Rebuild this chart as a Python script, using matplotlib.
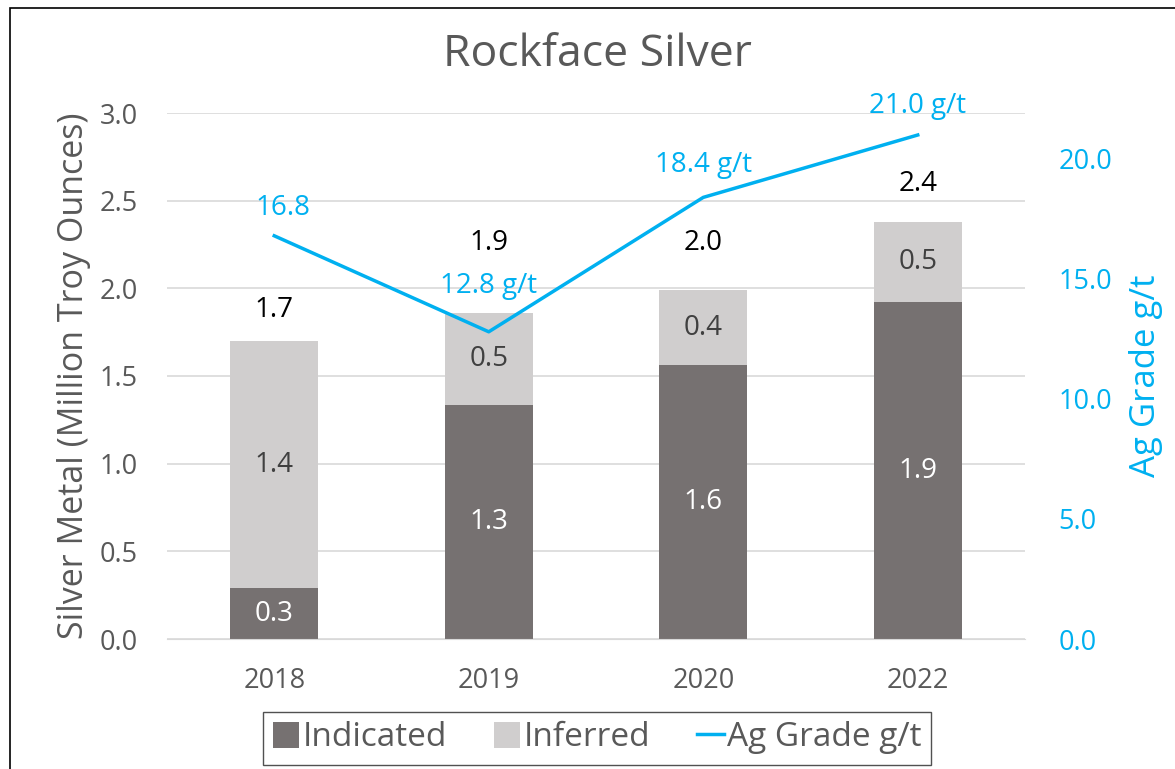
import matplotlib
matplotlib.use("Agg")
import matplotlib.pyplot as plt
from matplotlib.patches import Rectangle, Patch
from matplotlib.lines import Line2D

years = ["2018", "2019", "2020", "2022"]
indicated = [0.29, 1.335, 1.56, 1.92]
inferred = [1.41, 0.525, 0.43, 0.46]
grade = [16.8, 12.8, 18.4, 21.0]
grade_labels = ["16.8", "12.8 g/t", "18.4 g/t", "21.0 g/t"]
left_ticks = [0.0, 0.5, 1.0, 1.5, 2.0, 2.5, 3.0]
right_ticks = [0.0, 5.0, 10.0, 15.0, 20.0]

FONT = "Open Sans"
plt.rcParams["font.family"] = [FONT, "DejaVu Sans"]

C_IND = "#767171"
C_INF = "#D0CECE"
C_LINE = "#00B0F0"
C_TXT = "#595959"

fig = plt.figure(figsize=(11.75, 7.69), dpi=100)
fig.patches.append(Rectangle((10 / 1175, -0.05), 1.2, 1 - 8 / 769 + 0.05,
                             transform=fig.transFigure, fill=False,
                             edgecolor="#000000", linewidth=1.2))

ax = fig.add_axes([167 / 1175, 1 - 639 / 769, (1025 - 167) / 1175, (639 - 113) / 769])
x = list(range(len(years)))
w = 0.41
ax.bar(x, indicated, w, color=C_IND, zorder=2)
totals = [a + b for a, b in zip(indicated, inferred)]
ax.bar(x, inferred, w, bottom=indicated, color=C_INF, zorder=2)

ax.set_xlim(-0.5, 3.5)
ax.set_ylim(0, 3.0)
ax.set_yticks(left_ticks)
ax.set_yticklabels([f"{t:.1f}" for t in left_ticks])
ax.set_xticks(x)
ax.set_xticklabels(years)
ax.yaxis.grid(True, color="#D9D9D9", linewidth=1.2, zorder=0)
ax.set_axisbelow(True)
for s in ax.spines.values():
    s.set_visible(False)
ax.spines["bottom"].set_visible(True)
ax.spines["bottom"].set_color("#D9D9D9")
ax.tick_params(axis="both", length=0, labelsize=19.5, colors=C_TXT)
ax.tick_params(axis="y", pad=21)
ax.tick_params(axis="x", pad=20)
ax.set_ylabel("Silver Metal (Million Troy Ounces)", fontsize=24.5, color=C_TXT, labelpad=6)

for i in x:
    ax.text(i, indicated[i] / 2, f"{indicated[i]:.1f}", ha="center", va="center",
            color="white", fontsize=20, zorder=5)
    ax.text(i, indicated[i] + inferred[i] / 2, f"{inferred[i]:.1f}", ha="center",
            va="center", color="#404040", fontsize=20, zorder=5)

total_offsets = [22, 50, 34, 27]
for i in x:
    ax.annotate(f"{totals[i]:.1f}", (i, totals[i]), xytext=(0, total_offsets[i]),
                textcoords="offset points", ha="center", va="center",
                color="black", fontsize=20, zorder=5)

ax2 = ax.twinx()
ax2.plot(x, grade, color=C_LINE, linewidth=2.5, zorder=4)
ax2.set_ylim(0, 3.0 * 175.33 / 24)
ax2.set_yticks(right_ticks)
ax2.set_yticklabels([f"{t:.1f}" for t in right_ticks])
for s in ax2.spines.values():
    s.set_visible(False)
ax2.tick_params(axis="y", length=0, labelsize=19.5, colors=C_LINE, pad=24)
ax2.set_ylabel("Ag Grade g/t", fontsize=25, color=C_LINE, labelpad=12)

grade_offsets = [(6, 20), (0, 33), (0, 23), (0, 21)]
for i in x:
    ax2.annotate(grade_labels[i], (i, grade[i]), xytext=grade_offsets[i],
                 textcoords="offset points", ha="center", va="center",
                 color=C_LINE, fontsize=20, zorder=6)

fig.text(597 / 1175, 1 - 55 / 769, "Rockface Silver", ha="center", va="center",
         fontsize=32, color=C_TXT)

handles = [Patch(facecolor=C_IND, label="Indicated"),
           Patch(facecolor=C_INF, label="Inferred"),
           Line2D([0], [0], color=C_LINE, linewidth=2.5, label="Ag Grade g/t")]
leg = fig.legend(handles=handles, loc="center", bbox_to_anchor=(597 / 1175, 1 - 738 / 769),
                 ncol=3, frameon=True, fontsize=24, handlelength=0.8, handleheight=0.8,
                 handletextpad=0.1, columnspacing=1.4, borderpad=0.3, borderaxespad=0,
                 fancybox=False, labelcolor=C_TXT)
leg.get_frame().set_edgecolor("#262626")
leg.get_frame().set_linewidth(1.0)
fig.canvas.draw()
bb = leg.get_window_extent()
leg.get_frame().set_bounds(245, bb.y0, 950 - 245, bb.height)

fig.savefig("out.png", dpi=100)
